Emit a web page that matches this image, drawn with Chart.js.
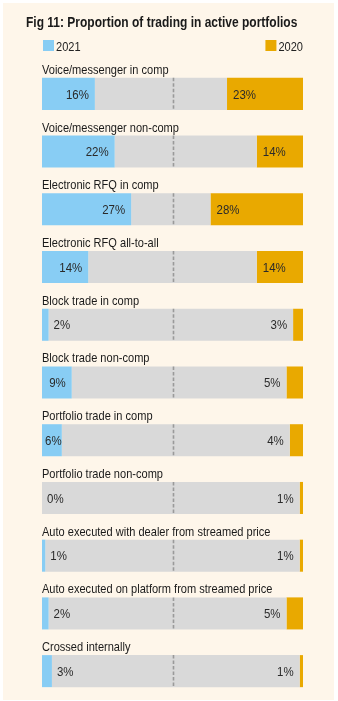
<!DOCTYPE html>
<html>
<head>
<meta charset="utf-8">
<script src="https://cdn.jsdelivr.net/npm/chart.js@4"></script>
<style>
  html, body { margin: 0; padding: 0; background: #ffffff; }
  canvas { display: block; }
</style>
</head>
<body>
<canvas id="grafico" width="338" height="701"></canvas>
<script>
const titulo = 'Fig 11: Proportion of trading in active portfolios';
const categorias = [
    'Voice/messenger in comp',
    'Voice/messenger non-comp',
    'Electronic RFQ in comp',
    'Electronic RFQ all-to-all',
    'Block trade in comp',
    'Block trade non-comp',
    'Portfolio trade in comp',
    'Portfolio trade non-comp',
    'Auto executed with dealer from streamed price',
    'Auto executed on platform from streamed price',
    'Crossed internally'
];
const valores2021 = [16, 22, 27, 14, 2, 9, 6, 0, 1, 2, 3];
const valores2020 = [23, 14, 28, 14, 3, 5, 4, 1, 1, 5, 1];
const etiquetas = ['2021', '2020'];

const TOPE = 79;
const relleno = valores2021.map((v, i) => TOPE - v - valores2020[i]);

const AZUL = '#88cdf4';
const NARANJA = '#e9a900';
const GRIS = '#d9d9d9';
const FUENTE = "'Liberation Sans', Arial, sans-serif";

// no hay fuente angosta instalada: se comprime la letra en horizontal
function texto(c, str, x, y, align, sx) {
    const w = c.measureText(str).width * sx;
    let izq = x;
    if (align === 'right') izq = x - w;
    c.save();
    c.textAlign = 'left';
    c.translate(izq, y);
    c.scale(sx, 1);
    c.fillText(str, 0, 0);
    c.restore();
    return w;
}

const dibujos = {
    id: 'dibujos',
    beforeDraw(chart) {
        const c = chart.ctx;
        c.save();
        c.fillStyle = '#fef6ea';
        c.fillRect(3, 3, 331, 697);

        // titulo
        c.fillStyle = '#1a1a1a';
        c.font = 'bold 15px ' + FUENTE;
        c.textBaseline = 'alphabetic';
        texto(c, titulo, 26, 27, 'left', 0.8);

        // leyenda
        const area = chart.chartArea;
        c.font = '13px ' + FUENTE;
        c.fillStyle = AZUL;
        c.fillRect(area.left + 1, 40, 11, 11);
        c.fillStyle = '#222';
        texto(c, etiquetas[0], area.left + 14, 51, 'left', 0.85);
        const w = texto(c, etiquetas[1], area.right, 51, 'right', 0.85);
        c.fillStyle = NARANJA;
        c.fillRect(area.right - w - 13, 40, 11, 11);
        c.restore();
    },
    afterDatasetsDraw(chart) {
        const c = chart.ctx;
        const x = chart.scales.x;
        const area = chart.chartArea;
        const barras = chart.getDatasetMeta(1).data;
        c.save();
        barras.forEach((b, i) => {
            const arriba = b.y - b.height / 2;
            const abajo = b.y + b.height / 2;

            // linea central punteada
            c.strokeStyle = '#9a9a9a';
            c.lineWidth = 1.6;
            c.setLineDash([3.5, 2]);
            const xc = Math.round(x.getPixelForValue(TOPE / 2)) + 0.5;
            c.beginPath();
            c.moveTo(xc, arriba);
            c.lineTo(xc, abajo);
            c.stroke();
            c.setLineDash([]);

            // categoria
            c.fillStyle = '#1a1a1a';
            c.font = '13px ' + FUENTE;
            c.textBaseline = 'alphabetic';
            texto(c, categorias[i], area.left, arriba - 4, 'left', 0.85);

            // valores
            c.font = '13.5px ' + FUENTE;
            c.textBaseline = 'middle';
            c.fillStyle = '#2a2a2a';
            const t1 = valores2021[i] + '%';
            const fin1 = x.getPixelForValue(valores2021[i]);
            const w1 = c.measureText(t1).width * 0.85;
            if (valores2021[i] >= 6) {
                texto(c, t1, Math.max(fin1 - 6 - w1, area.left + 3), b.y + 1, 'left', 0.85);
            } else {
                texto(c, t1, fin1 + 5, b.y + 1, 'left', 0.85);
            }
            const t2 = valores2020[i] + '%';
            const ini2 = x.getPixelForValue(TOPE - valores2020[i]);
            if (valores2020[i] >= 6) {
                texto(c, t2, ini2 + 6, b.y + 1, 'left', 0.85);
            } else {
                texto(c, t2, ini2 - 6, b.y + 1, 'right', 0.85);
            }
        });
        c.restore();
    }
};

new Chart(document.getElementById('grafico'), {
    type: 'bar',
    data: {
        labels: categorias,
        datasets: [
            { label: etiquetas[0], data: valores2021, backgroundColor: AZUL },
            { label: 'resto', data: relleno, backgroundColor: GRIS },
            { label: etiquetas[1], data: valores2020, backgroundColor: NARANJA }
        ]
    },
    options: {
        indexAxis: 'y',
        responsive: false,
        animation: false,
        layout: { padding: { left: 42, right: 35, top: 65, bottom: 1 } },
        datasets: { bar: { categoryPercentage: 1, barPercentage: 0.555, borderWidth: 0 } },
        scales: {
            x: { stacked: true, min: 0, max: TOPE, display: false },
            y: { stacked: true, display: false }
        },
        plugins: {
            legend: { display: false },
            tooltip: { enabled: false },
            title: { display: false }
        }
    },
    plugins: [dibujos]
});
</script>
</body>
</html>
